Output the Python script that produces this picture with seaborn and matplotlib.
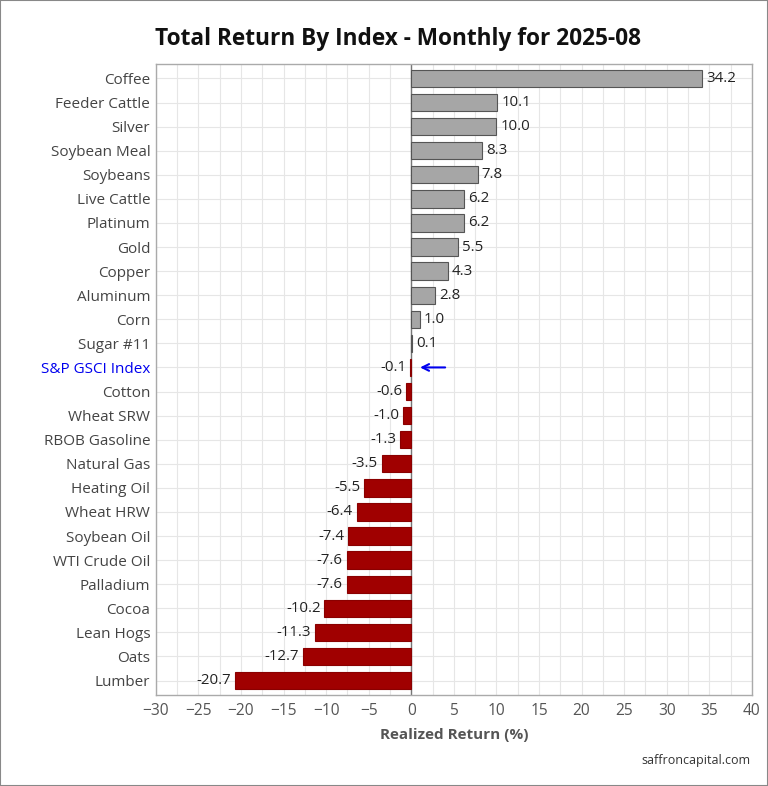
import matplotlib.pyplot as plt
import matplotlib.patches as mpatches
import seaborn as sns
import numpy as np
import pandas as pd

# Total return by index, 2025-08 (%)
indices = ["Coffee", "Feeder Cattle", "Silver", "Soybean Meal", "Soybeans",
           "Live Cattle", "Platinum", "Gold", "Copper", "Aluminum", "Corn",
           "Sugar #11", "S&P GSCI Index", "Cotton", "Wheat SRW", "RBOB Gasoline",
           "Natural Gas", "Heating Oil", "Wheat HRW", "Soybean Oil",
           "WTI Crude Oil", "Palladium", "Cocoa", "Lean Hogs", "Oats", "Lumber"]
returns = [34.2, 10.1, 10.0, 8.3, 7.8, 6.2, 6.2, 5.5, 4.3, 2.8, 1.0, 0.1,
           -0.1, -0.6, -1.0, -1.3, -3.5, -5.5, -6.4, -7.4, -7.6, -7.6,
           -10.2, -11.3, -12.7, -20.7]
highlight = "S&P GSCI Index"

df = pd.DataFrame({"index": indices, "ret": returns})
df["sign"] = np.where(df["ret"] >= 0, "pos", "neg")

sns.set_theme(style="white")
plt.rcParams['font.family'] = ['Open Sans', 'DejaVu Sans']

fig = plt.figure(figsize=(7.68, 7.86), dpi=100)
ax = fig.add_axes([0.203, 0.1158, 0.776, 0.8028])

sns.barplot(data=df, x="ret", y="index", hue="sign",
            palette={"pos": "#a6a6a6", "neg": "#a00000"}, saturation=1,
            dodge=False, legend=False, width=0.72, ax=ax, zorder=3)

for p in ax.patches:
    if p.get_width() >= 0:
        p.set_edgecolor("#555555")
    else:
        p.set_edgecolor("#8a0000")
    p.set_linewidth(0.8)

# value labels
for i, v in enumerate(returns):
    if v >= 0:
        ax.text(v + 0.45, i, f"{v:.1f}", va="center", ha="left",
                fontsize=10.8, color="#222222", zorder=4)
    else:
        ax.text(v - 0.45, i, f"{v:.1f}", va="center", ha="right",
                fontsize=10.8, color="#222222", zorder=4)

# arrow to the index
hi = indices.index(highlight)
ax.annotate("", xy=(0.7, hi), xytext=(4.3, hi),
            arrowprops=dict(arrowstyle="->", color="#0000ee", lw=1.5,
                            mutation_scale=12), zorder=5)

ax.set_xlim(-30, 40)
ax.set_ylim(len(indices) - 0.4, -0.6)
ax.set_xticks(np.arange(-30, 41, 5))
ax.set_xticks(np.arange(-30, 41, 2.5), minor=True)
ax.grid(True, which="both", axis="x", color="#e6e6e6", lw=0.8, zorder=0)
ax.grid(True, which="major", axis="y", color="#e6e6e6", lw=0.8, zorder=0)
ax.axvline(0, color="#777777", lw=1, zorder=2)

ax.tick_params(axis="x", labelsize=11.2, labelcolor="#555555", length=0, pad=6)
ax.tick_params(axis="y", labelsize=11, labelcolor="#444444", length=0, pad=4)
ax.tick_params(which="minor", length=0)
for lbl in ax.get_yticklabels():
    if lbl.get_text() == highlight:
        lbl.set_color("#0000ee")

for s in ax.spines.values():
    s.set_color("#aaaaaa")
    s.set_linewidth(1)

ax.set_ylabel("")
ax.set_xlabel("Realized Return (%)", fontsize=11, weight="bold",
              color="#555555", labelpad=6)
fig.suptitle("Total Return By Index - Monthly for 2025-08", fontsize=16.3,
             weight="bold", color="#111111", x=0.518, y=0.966)
fig.text(0.977, 0.032, "saffroncapital.com", ha="right", va="center",
         fontsize=9, color="#333333")

fig.patches.append(mpatches.Rectangle((0, 0), 1, 1, transform=fig.transFigure,
                                      fill=False, edgecolor="#888888", lw=1.5))

fig.savefig("out.png", dpi=100)
